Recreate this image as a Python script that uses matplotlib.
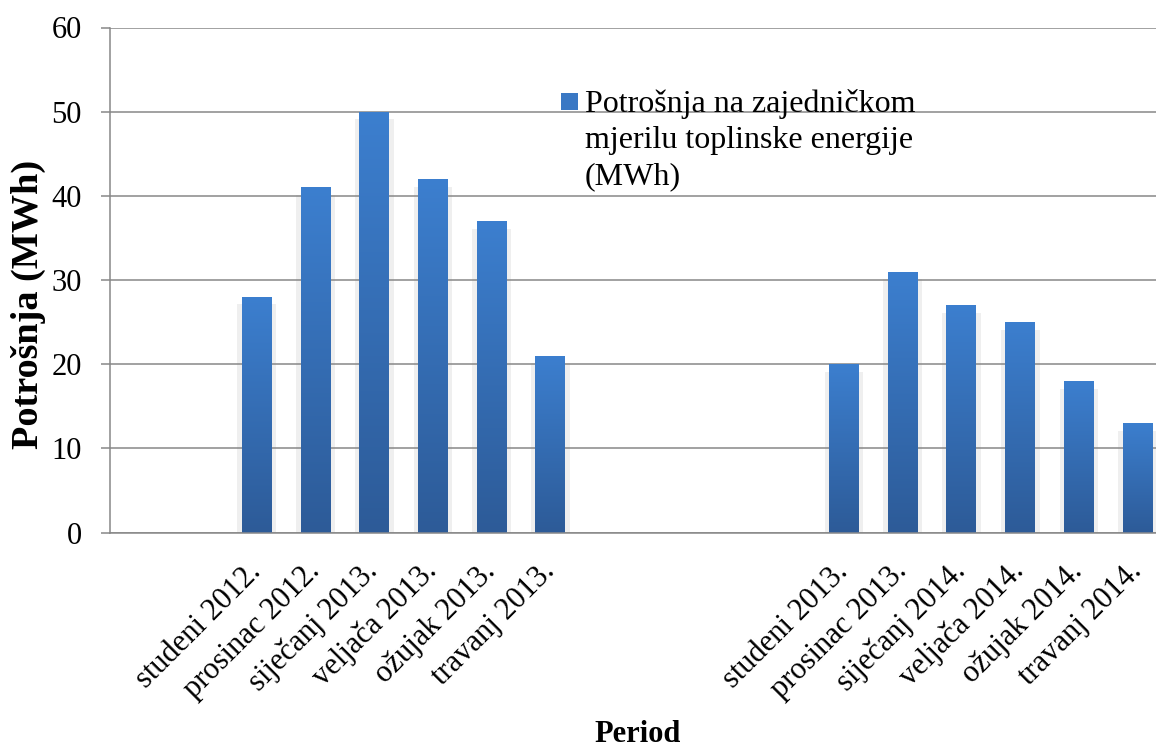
import numpy as np
import matplotlib.pyplot as plt
from matplotlib.colors import LinearSegmentedColormap
from matplotlib.patches import Rectangle
from matplotlib.legend_handler import HandlerBase
from matplotlib.transforms import ScaledTranslation

plt.rcParams['font.family'] = ['Liberation Serif', 'DejaVu Serif']

# heating season 2012/13 and 2013/14
periods_1 = ['studeni 2012.', 'prosinac 2012.', 'siječanj 2013.',
             'veljača 2013.', 'ožujak 2013.', 'travanj 2013.']
usage_1 = [28, 41, 50, 42, 37, 21]
periods_2 = ['studeni 2013.', 'prosinac 2013.', 'siječanj 2014.',
             'veljača 2014.', 'ožujak 2014.', 'travanj 2014.']
usage_2 = [20, 31, 27, 25, 18, 13]
series_name = 'Potrošnja na zajedničkom\nmjerilu toplinske energije\n(MWh)'

# empty category slots as in the original sheet
categories = ['', ''] + periods_1 + [''] * 4 + periods_2
values = [np.nan] * 2 + usage_1 + [np.nan] * 4 + usage_2

x = np.arange(len(categories))
v = np.array(values, dtype=float)
has = ~np.isnan(v)

gray = '#878787'
fs = 22

fig = plt.figure(figsize=(11.56, 7.49), dpi=100)
ax = fig.add_axes([110 / 1156, 1 - 532.5 / 749, 1057 / 1156, 505 / 749])

# soft shadow behind the bars
ax.bar(x[has], v[has] - 0.9, width=0.66, color='#efefef', zorder=0.4)
bars = ax.bar(x[has], v[has], width=0.51, color='#3468b0', zorder=2)

cmap = LinearSegmentedColormap.from_list('bar', ['#2d5b98', '#3c7fcf'])
grad = np.linspace(0, 1, 256).reshape(-1, 1)
for b in bars:
    x0, w, h = b.get_x(), b.get_width(), b.get_height()
    im = ax.imshow(grad, extent=[x0, x0 + w, 0, h], origin='lower',
                   aspect='auto', cmap=cmap, zorder=2.1)
    im.set_clip_path(b)

ax.set_xlim(-0.5, len(categories) - 0.5)
ax.set_ylim(0, 60)
ax.set_yticks(range(0, 61, 10))
ax.set_axisbelow(True)
ax.yaxis.grid(True, color=gray, linewidth=1.1)
for s in ['top', 'right']:
    ax.spines[s].set_visible(False)
for s in ['left', 'bottom']:
    ax.spines[s].set_color(gray)
    ax.spines[s].set_linewidth(1.1)

ax.tick_params(axis='y', length=6.5, width=1.1, color=gray, labelsize=fs, pad=13.7)
ax.tick_params(axis='x', length=0, labelsize=fs, pad=28.8)
ax.set_xticks(x[has])
ax.set_xticklabels([c for c, h in zip(categories, has) if h], rotation=45,
                   ha='right', va='baseline', rotation_mode='anchor')
off = ScaledTranslation(0.05, 0, fig.dpi_scale_trans)
for lab in ax.get_xticklabels():
    lab.set_transform(lab.get_transform() + off)


class TopSquare(HandlerBase):
    def create_artists(self, legend, orig_handle, xdescent, ydescent,
                       width, height, fontsize, trans):
        s = 0.53 * fontsize
        y0 = -ydescent + height / 2 - s / 2 + 1.22 * fontsize
        return [Rectangle((-xdescent, y0), s, s, facecolor='#3a78c4',
                          edgecolor='none', transform=trans)]


leg = ax.legend([bars], [series_name], handler_map={bars: TopSquare()},
                loc='upper left', bbox_to_anchor=(561 / 1156, 1 - 89 / 749),
                bbox_transform=fig.transFigure, frameon=False, fontsize=23,
                handlelength=0.53, handletextpad=0.22, borderpad=0,
                borderaxespad=0)
for t in leg.get_texts():
    t.set_linespacing(1.33)

fig.text(28 / 1156, 1 - 304 / 749, 'Potrošnja (MWh)', rotation=90,
         fontsize=27.5, weight='bold', ha='center', va='center')
fig.text(638 / 1156, 1 - 742 / 749, 'Period', fontsize=fs, weight='bold',
         ha='center', va='baseline')

fig.savefig('out.png', dpi=100)
